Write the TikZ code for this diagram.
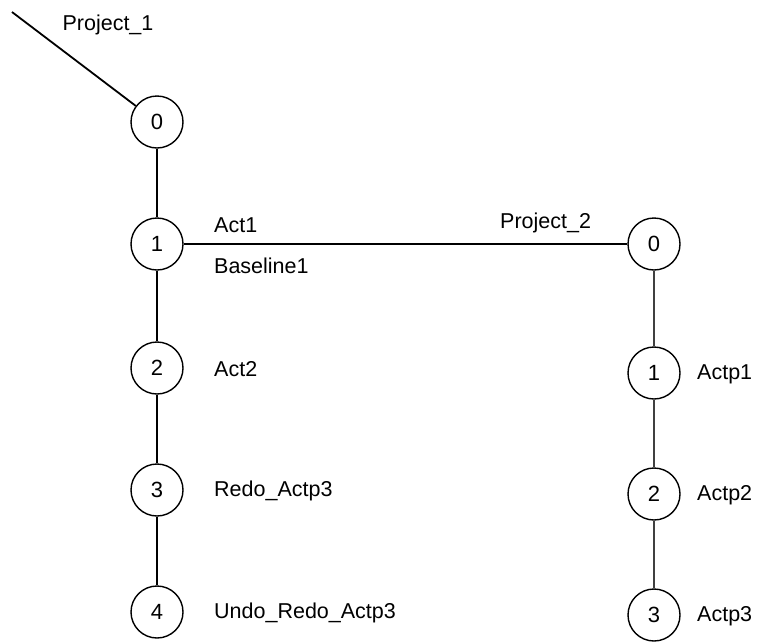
\documentclass[tikz,border=0pt]{standalone}
\usepackage{fontspec}
\setmainfont{Liberation Sans}
\begin{document}
\begin{tikzpicture}[x=1pt,y=-1pt,
  ver/.style={circle,draw,line width=1.4pt,minimum size=52pt,inner sep=0pt,font=\fontsize{22}{24}\selectfont},
  lbl/.style={anchor=west,inner sep=0pt,font=\fontsize{21.5}{24}\selectfont},
  thick line/.style={line width=1.8pt},
  thin line/.style={line width=1.1pt,draw=black!75}]
\useasboundingbox (0,0) rectangle (759,643);
% branch Project_1
\coordinate (start) at (12,12);
\node[ver] (a0) at (157,122) {0};
\node[ver] (a1) at (157,244) {1};
\node[ver] (a2) at (157,368) {2};
\node[ver] (a3) at (157,490) {3};
\node[ver] (a4) at (157,612) {4};
% branch Project_2
\node[ver] (b0) at (654,244) {0};
\node[ver] (b1) at (654,373) {1};
\node[ver] (b2) at (654,494) {2};
\node[ver] (b3) at (654,615) {3};
% connectors
\draw[thick line] (start) -- (a0);
\draw[thick line] (a0) -- (a1);
\draw[thick line] (a1) -- (a2);
\draw[thick line] (a2) -- (a3);
\draw[thick line] (a3) -- (a4);
\draw[line width=1.5pt] (a1) -- (b0);
\draw[thin line] (b0) -- (b1);
\draw[thin line] (b1) -- (b2);
\draw[thin line] (b2) -- (b3);
% labels
\node[lbl,anchor=center] (p1) at (108,25) {Project\_1};
\node[lbl] (l1) at (214,225) {Act1};
\node[lbl] (l1b) at (214,266) {Baseline1};
\node[lbl] (p2) at (500,223) {Project\_2};
\node[lbl] (l2) at (214,369) {Act2};
\node[lbl] (l3) at (214,491) {Redo\_Actp3};
\node[lbl] (l4) at (214,613) {Undo\_Redo\_Actp3};
\node[lbl] (r1) at (697,374) {Actp1};
\node[lbl] (r2) at (697,495) {Actp2};
\node[lbl] (r3) at (697,616) {Actp3};
\end{tikzpicture}
\end{document}
